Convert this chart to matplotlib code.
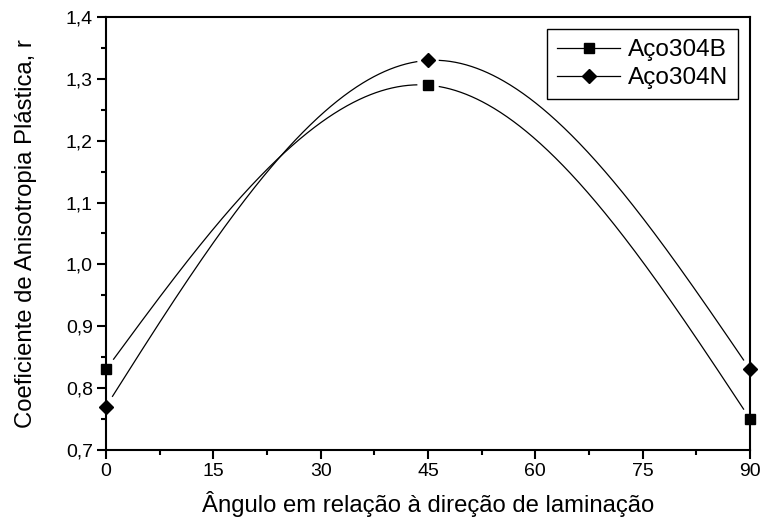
import matplotlib
matplotlib.use("Agg")
import matplotlib.pyplot as plt
import numpy as np
from matplotlib.ticker import MultipleLocator, FuncFormatter

# Data
angulos = [0, 45, 90]
aco304B = [0.83, 1.29, 0.75]
aco304N = [0.77, 1.33, 0.83]


def natural_spline(x, y, xs):
    # natural cubic spline (zero curvature at ends)
    x = np.asarray(x, float)
    y = np.asarray(y, float)
    n = len(x)
    h = np.diff(x)
    A = np.zeros((n, n))
    r = np.zeros(n)
    A[0, 0] = A[-1, -1] = 1
    for i in range(1, n - 1):
        A[i, i - 1] = h[i - 1]
        A[i, i] = 2 * (h[i - 1] + h[i])
        A[i, i + 1] = h[i]
        r[i] = 6 * ((y[i + 1] - y[i]) / h[i] - (y[i] - y[i - 1]) / h[i - 1])
    M = np.linalg.solve(A, r)
    out = np.empty_like(xs)
    for k, xv in enumerate(xs):
        i = min(np.searchsorted(x, xv, side="right") - 1, n - 2)
        i = max(i, 0)
        t1 = x[i + 1] - xv
        t0 = xv - x[i]
        out[k] = (M[i] * t1**3 + M[i + 1] * t0**3) / (6 * h[i]) \
            + (y[i] / h[i] - M[i] * h[i] / 6) * t1 \
            + (y[i + 1] / h[i] - M[i + 1] * h[i] / 6) * t0
    return out


plt.rcParams['font.family'] = ['Liberation Sans', 'DejaVu Sans']
fig = plt.figure(figsize=(7.63, 5.20), dpi=100)
ax = fig.add_axes([0.139, 0.135, 0.844, 0.832])

xs = np.linspace(0, 90, 600)
# pixel scale used only for the small gap around each marker
sx, sy = 644 / 90.0, 433 / 0.7
for ys_pts, mk, ms, lab in [(aco304B, 's', 7, 'Aço304B'), (aco304N, 'D', 7, 'Aço304N')]:
    ys = natural_spline(angulos, ys_pts, xs)
    mask = np.zeros_like(xs, dtype=bool)
    for px, py in zip(angulos, ys_pts):
        d = np.hypot((xs - px) * sx, (ys - py) * sy)
        mask |= d < 11
    ys_gap = np.where(mask, np.nan, ys)
    ax.plot(xs, ys_gap, color='black', lw=0.9)
    ax.plot(angulos, ys_pts, linestyle='none', marker=mk, ms=ms, color='black',
            clip_on=False, zorder=5)
    ax.plot([], [], color='black', lw=0.9, marker=mk, ms=ms, label=lab)

ax.set_xlim(0, 90)
ax.set_ylim(0.7, 1.4)
ax.xaxis.set_major_locator(MultipleLocator(15))
ax.xaxis.set_minor_locator(MultipleLocator(7.5))
ax.yaxis.set_major_locator(MultipleLocator(0.1))
ax.yaxis.set_minor_locator(MultipleLocator(0.05))
ax.yaxis.set_major_formatter(FuncFormatter(lambda v, p: ('%.1f' % v).replace('.', ',')))
ax.tick_params(which='major', direction='out', length=6.5, width=1.5, labelsize=14, pad=3)
ax.tick_params(which='minor', direction='out', length=3.5, width=1.5)
for s in ax.spines.values():
    s.set_linewidth(1.5)

ax.set_xlabel('Ângulo em relação à direção de laminação', fontsize=17.2, labelpad=8)
ax.set_ylabel('Coeficiente de Anisotropia Plástica, r', fontsize=17.2, labelpad=21)

leg = ax.legend(loc='upper right', fontsize=17.6, fancybox=False, edgecolor='black',
                framealpha=1, handlelength=2.6, borderaxespad=0.5,
                handletextpad=0.3, labelspacing=0.25, borderpad=0.4)
leg.get_frame().set_linewidth(1.0)

fig.savefig('out.png', dpi=100)
